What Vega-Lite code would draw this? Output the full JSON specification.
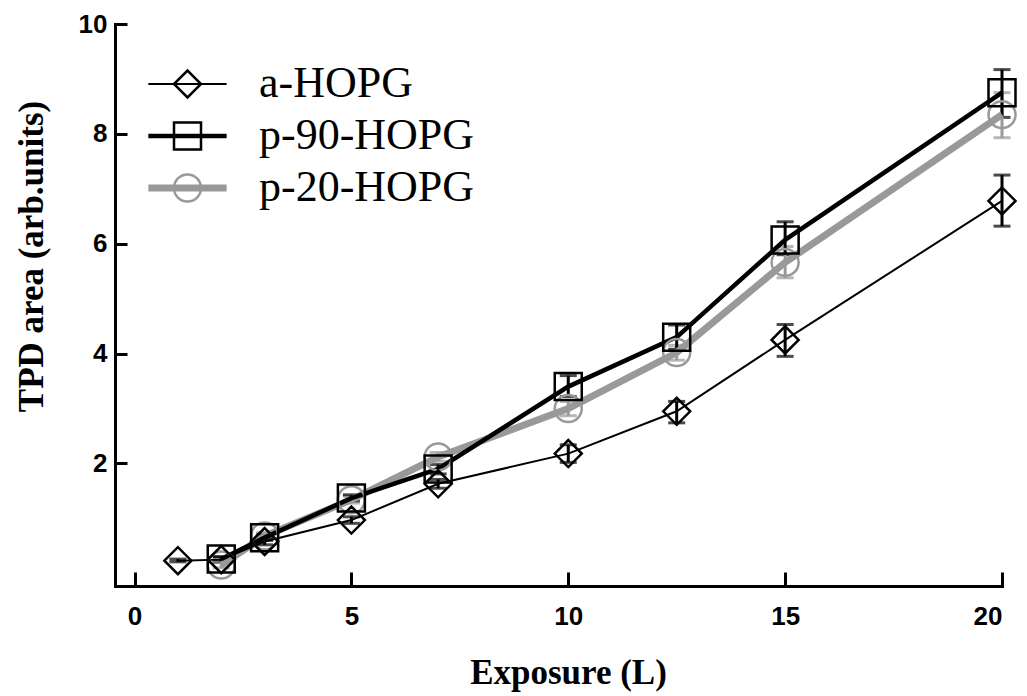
{
  "$schema": "https://vega.github.io/schema/vega-lite/v6.json",
  "width": 887,
  "height": 562,
  "autosize": {"type": "none"},
  "padding": {"left": 115, "top": 24, "right": 25, "bottom": 110},
  "background": "white",
  "data": {
    "values": [
      {"series": "p-20-HOPG", "exposure": 2, "area": 0.15, "lo": 0.1, "hi": 0.2},
      {"series": "p-20-HOPG", "exposure": 3, "area": 0.68, "lo": 0.62, "hi": 0.74},
      {"series": "p-20-HOPG", "exposure": 5, "area": 1.34, "lo": 1.28, "hi": 1.4},
      {"series": "p-20-HOPG", "exposure": 7, "area": 2.12, "lo": 2.04, "hi": 2.2},
      {"series": "p-20-HOPG", "exposure": 10, "area": 3.0, "lo": 2.87, "hi": 3.13},
      {"series": "p-20-HOPG", "exposure": 12.5, "area": 4.02, "lo": 3.88, "hi": 4.15},
      {"series": "p-20-HOPG", "exposure": 15, "area": 5.66, "lo": 5.38, "hi": 5.95},
      {"series": "p-20-HOPG", "exposure": 20, "area": 8.35, "lo": 7.93, "hi": 8.75},
      {"series": "p-90-HOPG", "exposure": 2, "area": 0.26, "lo": 0.22, "hi": 0.3},
      {"series": "p-90-HOPG", "exposure": 3, "area": 0.65, "lo": 0.6, "hi": 0.7},
      {"series": "p-90-HOPG", "exposure": 5, "area": 1.37, "lo": 1.32, "hi": 1.43},
      {"series": "p-90-HOPG", "exposure": 7, "area": 1.9, "lo": 1.81, "hi": 1.98},
      {"series": "p-90-HOPG", "exposure": 10, "area": 3.4, "lo": 3.22, "hi": 3.6},
      {"series": "p-90-HOPG", "exposure": 12.5, "area": 4.3, "lo": 4.08, "hi": 4.52},
      {"series": "p-90-HOPG", "exposure": 15, "area": 6.07, "lo": 5.8, "hi": 6.4},
      {"series": "p-90-HOPG", "exposure": 20, "area": 8.75, "lo": 8.3, "hi": 9.17},
      {"series": "a-HOPG", "exposure": 1, "area": 0.23, "lo": 0.21, "hi": 0.26},
      {"series": "a-HOPG", "exposure": 2, "area": 0.25, "lo": 0.2, "hi": 0.3},
      {"series": "a-HOPG", "exposure": 3, "area": 0.58, "lo": 0.52, "hi": 0.64},
      {"series": "a-HOPG", "exposure": 5, "area": 0.97, "lo": 0.91, "hi": 1.03},
      {"series": "a-HOPG", "exposure": 7, "area": 1.63, "lo": 1.55, "hi": 1.71},
      {"series": "a-HOPG", "exposure": 10, "area": 2.18, "lo": 2.02, "hi": 2.34},
      {"series": "a-HOPG", "exposure": 12.5, "area": 2.95, "lo": 2.74, "hi": 3.13},
      {"series": "a-HOPG", "exposure": 15, "area": 4.25, "lo": 3.95, "hi": 4.53},
      {"series": "a-HOPG", "exposure": 20, "area": 6.78, "lo": 6.32, "hi": 7.25}
    ]
  },
  "encoding": {
    "x": {
      "field": "exposure",
      "type": "quantitative",
      "scale": {"domain": [-0.45, 20], "nice": false, "zero": false},
      "axis": {"title": "Exposure (L)", "values": [0, 5, 10, 15, 20]}
    }
  },
  "layer": [
    {
      "mark": {"type": "errorbar", "ticks": {"size": 17, "thickness": 3}, "rule": {"strokeWidth": 3}},
      "encoding": {
        "y": {
          "field": "lo",
          "type": "quantitative",
          "scale": {"domain": [-0.23, 10], "nice": false, "zero": false},
          "axis": {"title": "TPD area (arb.units)", "values": [2, 4, 6, 8, 10]}
        },
        "y2": {"field": "hi"},
        "color": {
          "field": "series",
          "type": "nominal",
          "scale": {"domain": ["a-HOPG", "p-90-HOPG", "p-20-HOPG"], "range": ["black", "black", "#999999"]},
          "legend": null
        }
      }
    },
    {
      "mark": {"type": "line", "strokeJoin": "miter"},
      "encoding": {
        "y": {
          "field": "area",
          "type": "quantitative",
          "scale": {"domain": [-0.23, 10], "nice": false, "zero": false},
          "axis": {"title": "TPD area (arb.units)", "values": [2, 4, 6, 8, 10]}
        },
        "color": {
          "field": "series",
          "type": "nominal",
          "scale": {"domain": ["a-HOPG", "p-90-HOPG", "p-20-HOPG"], "range": ["black", "black", "#999999"]},
          "legend": {
            "orient": "none", "legendX": 50.5, "legendY": 38, "title": null, "padding": 0,
            "symbolType": "M-2.9,0L2.9,0", "symbolSize": 729, "symbolOpacity": 1,
            "labelFont": "Liberation Serif", "labelFontSize": 44, "labelColor": "black", "labelLimit": 0,
            "labelOffset": 49.5, "rowPadding": 8
          }
        },
        "strokeWidth": {
          "field": "series",
          "type": "nominal",
          "scale": {"domain": ["a-HOPG", "p-90-HOPG", "p-20-HOPG"], "range": [2, 7, 7]},
          "legend": {
            "orient": "none", "legendX": 50.5, "legendY": 38, "title": null, "padding": 0,
            "symbolType": "M-2.9,0L2.9,0", "symbolSize": 729, "symbolOpacity": 1,
            "labelFont": "Liberation Serif", "labelFontSize": 44, "labelColor": "black", "labelLimit": 0,
            "labelOffset": 49.5, "rowPadding": 8
          }
        }
      }
    },
    {
      "mark": {"type": "point", "filled": false, "size": 729, "strokeWidth": 2.5, "opacity": 1},
      "encoding": {
        "y": {
          "field": "area",
          "type": "quantitative",
          "scale": {"domain": [-0.23, 10], "nice": false, "zero": false},
          "axis": {"title": "TPD area (arb.units)", "values": [2, 4, 6, 8, 10]}
        },
        "color": {
          "field": "series",
          "type": "nominal",
          "scale": {"domain": ["a-HOPG", "p-90-HOPG", "p-20-HOPG"], "range": ["black", "black", "#999999"]},
          "legend": {
            "orient": "none", "legendX": 50.5, "legendY": 38, "title": null, "padding": 0,
            "symbolSize": 729, "symbolStrokeWidth": 2.5, "symbolOpacity": 1,
            "labelFont": "Liberation Serif", "labelFontSize": 44, "labelOpacity": 0, "labelLimit": 0,
            "labelOffset": 49.5, "rowPadding": 8,
            "encode": {"symbols": {"update": {"fill": [{"test": "datum.value === 'p-20-HOPG'", "value": "transparent"}, {"value": "white"}]}}}
          }
        },
        "shape": {
          "field": "series",
          "type": "nominal",
          "scale": {"domain": ["a-HOPG", "p-90-HOPG", "p-20-HOPG"], "range": ["diamond", "square", "circle"]},
          "legend": {
            "orient": "none", "legendX": 50.5, "legendY": 38, "title": null, "padding": 0,
            "symbolSize": 729, "symbolStrokeWidth": 2.5, "symbolOpacity": 1,
            "labelFont": "Liberation Serif", "labelFontSize": 44, "labelOpacity": 0, "labelLimit": 0,
            "labelOffset": 49.5, "rowPadding": 8,
            "encode": {"symbols": {"update": {"fill": [{"test": "datum.value === 'p-20-HOPG'", "value": "transparent"}, {"value": "white"}]}}}
          }
        }
      }
    }
  ],
  "resolve": {"scale": {"color": "independent", "strokeWidth": "independent", "shape": "independent"}},
  "config": {
    "view": {"stroke": null},
    "axis": {
      "grid": false,
      "domainColor": "black", "domainWidth": 3, "domainCap": "square",
      "tickColor": "black", "tickWidth": 3,
      "labelFont": "Liberation Sans", "labelFontWeight": "bold", "labelFontSize": 26, "labelColor": "black",
      "titleFont": "Liberation Serif", "titleFontWeight": "bold", "titleFontSize": 35, "titleColor": "black"
    },
    "axisX": {"tickSize": -14, "labelPadding": 31, "titleX": 453, "titleY": 97, "titleBaseline": "alphabetic"},
    "axisY": {"tickSize": -12, "labelPadding": 20, "titleX": -73, "titleY": 232, "titleBaseline": "alphabetic", "titleAngle": -90}
  }
}
